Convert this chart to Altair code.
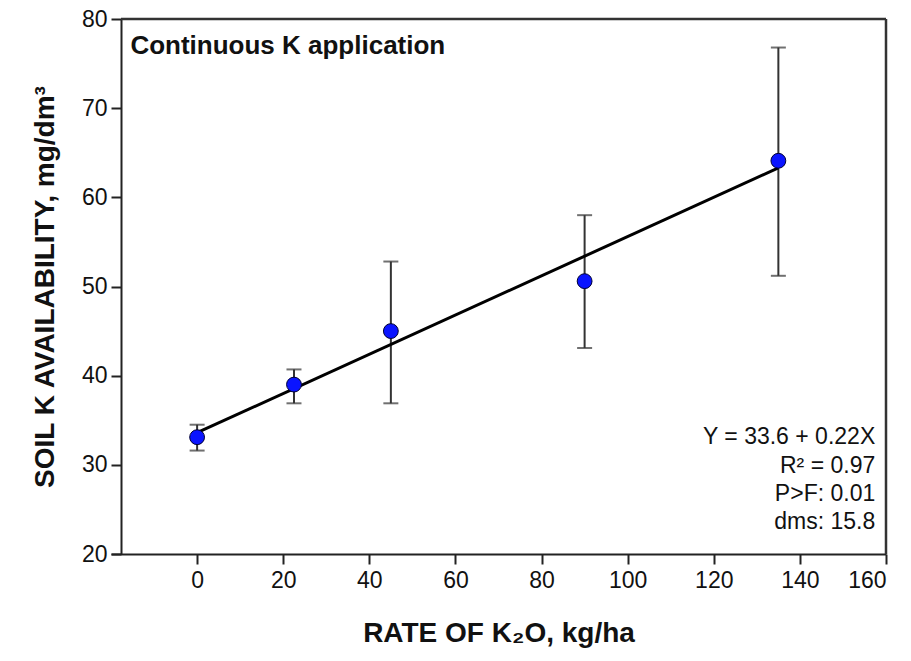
import altair as alt
import pandas as pd

# data
rate = [0, 22.5, 45, 90, 135]
soil_k = [33.1, 39.0, 45.0, 50.6, 64.1]
err_low = [31.6, 36.9, 36.9, 43.1, 51.2]
err_high = [34.5, 40.7, 52.8, 58.0, 76.8]

fit_x = [0, 135]
fit_y = [33.6, 63.3]

x_ticks = [0, 20, 40, 60, 80, 100, 120, 140, 160]
y_ticks = [20, 30, 40, 50, 60, 70, 80]

stats_text = ["Y = 33.6 + 0.22X", "R² = 0.97", "P>F: 0.01", "dms: 15.8"]
stats_y = [33.1, 29.9, 26.7, 23.6]

FONT = "Liberation Sans"

pts = pd.DataFrame({"rate": rate, "k": soil_k, "lo": err_low, "hi": err_high})
fit = pd.DataFrame({"rate": fit_x, "k": fit_y})
stats = pd.DataFrame({"txt": stats_text, "y": stats_y, "x": [157.5] * 4})
label = pd.DataFrame({"txt": ["Continuous K application"], "x": [-15.5], "y": [77.0]})

xscale = alt.Scale(domain=[-20, 160], nice=False, zero=False)
yscale = alt.Scale(domain=[20, 80], nice=False, zero=False)

xaxis = alt.Axis(
    values=x_ticks, title="RATE OF K₂O, kg/ha", grid=False,
    domainColor="#222", domainWidth=2, tickColor="#222", tickWidth=2, tickSize=10,
    labelFont=FONT, labelFontSize=23, labelColor="#111", labelPadding=5,
    titleFont=FONT, titleFontSize=28, titleFontWeight="bold", titleColor="#111",
    titlePadding=27,
)
yaxis = alt.Axis(
    values=y_ticks, title="SOIL K AVAILABILITY, mg/dm³", grid=False, offset=-10,
    domainColor="#222", domainWidth=2, tickColor="#222", tickWidth=2, tickSize=10,
    labelFont=FONT, labelFontSize=23, labelColor="#111", labelPadding=4,
    titleFont=FONT, titleFontSize=28, titleFontWeight="bold", titleColor="#111",
    titlePadding=22,
)

base = alt.Chart(pts)

errbars = base.mark_rule(color="#333", strokeWidth=2).encode(
    x=alt.X("rate:Q", scale=xscale, axis=xaxis),
    y=alt.Y("lo:Q", scale=yscale, axis=yaxis),
    y2="hi:Q",
)
cap_lo = base.mark_tick(color="#333", orient="horizontal", size=15, thickness=2).encode(
    x=alt.X("rate:Q", scale=xscale), y=alt.Y("lo:Q", scale=yscale)
)
cap_hi = base.mark_tick(color="#333", orient="horizontal", size=15, thickness=2).encode(
    x=alt.X("rate:Q", scale=xscale), y=alt.Y("hi:Q", scale=yscale)
)
line = alt.Chart(fit).mark_line(color="#000", strokeWidth=3).encode(
    x=alt.X("rate:Q", scale=xscale), y=alt.Y("k:Q", scale=yscale)
)
points = base.mark_point(filled=True, shape="circle", size=220, fill="#0a14ff",
                         stroke="#000033", strokeWidth=1, opacity=1).encode(
    x=alt.X("rate:Q", scale=xscale), y=alt.Y("k:Q", scale=yscale)
)

frame_top = alt.Chart(pd.DataFrame({"a": [0]})).mark_rule(color="#333", strokeWidth=2.5).encode(
    x=alt.value(10), x2=alt.value(775), y=alt.value(0)
)
frame_right = alt.Chart(pd.DataFrame({"a": [0]})).mark_rule(color="#333", strokeWidth=2.5).encode(
    x=alt.value(775), y=alt.value(0), y2=alt.value(535)
)

lbl = alt.Chart(label).mark_text(font=FONT, fontSize=26, fontWeight="bold", align="left",
                                  baseline="middle", color="#111").encode(
    x=alt.X("x:Q", scale=xscale), y=alt.Y("y:Q", scale=yscale), text="txt:N"
)
st = alt.Chart(stats).mark_text(font=FONT, fontSize=23, align="right",
                                 baseline="middle", color="#111").encode(
    x=alt.X("x:Q", scale=xscale), y=alt.Y("y:Q", scale=yscale), text="txt:N"
)

chart = alt.layer(errbars, cap_lo, cap_hi, line, points, frame_top, frame_right, lbl, st).properties(
    width=775, height=535,
    autosize=alt.AutoSizeParams(type="none"),
    padding={"left": 111, "top": 19, "right": 25, "bottom": 107},
).configure_view(stroke=None)

chart.save("out.html", embed_options={"renderer": "svg", "actions": False})
